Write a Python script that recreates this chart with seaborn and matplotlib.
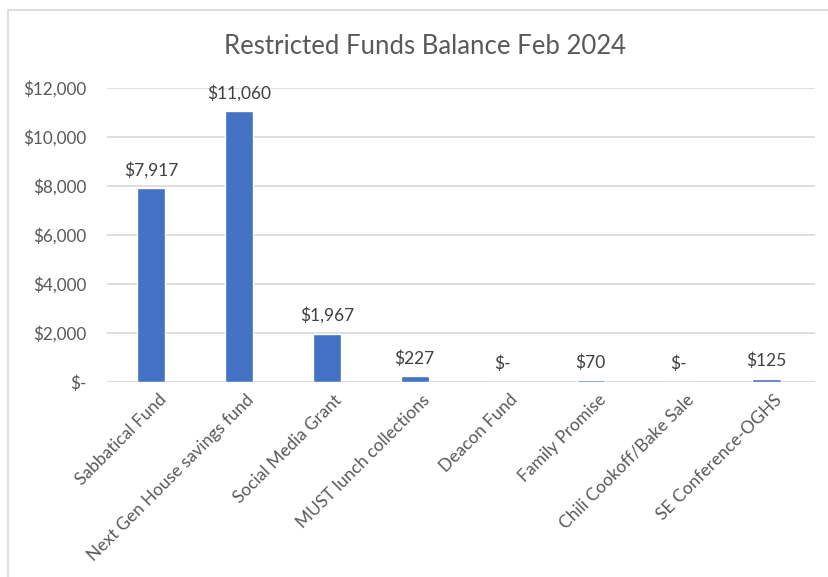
import matplotlib
matplotlib.use("Agg")
import matplotlib.pyplot as plt
from matplotlib.patches import Rectangle
from matplotlib.ticker import FuncFormatter
from matplotlib.transforms import ScaledTranslation
import seaborn as sns
import pandas as pd

funds = ["Sabbatical Fund", "Next Gen House savings fund", "Social Media Grant",
         "MUST lunch collections", "Deacon Fund", "Family Promise",
         "Chili Cookoff/Bake Sale", "SE Conference-OGHS"]
balances = [7917, 11060, 1967, 227, 0, 70, 0, 125]
y_ticks = [0, 2000, 4000, 6000, 8000, 10000, 12000]


def money(v, pos=None):
    if v == 0:
        return "$-"
    return f"${v:,.0f}"


sns.set_style("white")
plt.rcParams["font.family"] = ["Lato", "DejaVu Sans"]

grey = "#595959"
df = pd.DataFrame({"fund": funds, "balance": balances})

fig = plt.figure(figsize=(8.29, 5.77), dpi=100)
ax = fig.add_axes([0.129, 0.338, 0.854, 0.5095])

sns.barplot(data=df, x="fund", y="balance", color="#4472C4", width=0.32,
            saturation=1, ax=ax)

ax.set_ylim(0, 12000)
ax.set_yticks(y_ticks)
ax.yaxis.set_major_formatter(FuncFormatter(money))
ax.grid(axis="y", color="#D9D9D9", lw=1.2)
ax.set_axisbelow(True)
for s in ax.spines.values():
    s.set_visible(False)
ax.axhline(0, color="#D9D9D9", lw=1.5, zorder=0.5)
ax.set_xlim(-0.5, len(funds) - 0.45)
ax.set_xlabel("")
ax.set_ylabel("")
ax.tick_params(axis="x", length=0, colors=grey, labelsize=12.5, pad=7)
ax.tick_params(axis="y", length=0, colors=grey, labelsize=12.3, pad=15)
shift = ScaledTranslation(0.07, 0, fig.dpi_scale_trans)
for lab in ax.get_xticklabels():
    lab.set_rotation(45)
    lab.set_ha("right")
    lab.set_rotation_mode("anchor")
    lab.set_transform(lab.get_transform() + shift)

for i, v in enumerate(balances):
    ax.annotate(money(v), (i, v), xytext=(0, 7), textcoords="offset points",
                ha="center", va="bottom", fontsize=12.5, color="#404040")

fig.text(0.513, 0.92, "Restricted Funds Balance Feb 2024", ha="center",
         va="center", fontsize=18.5, color=grey)

fig.add_artist(Rectangle((8 / 829, -0.05), 1.1, 1 - 10 / 577 + 0.05,
                         transform=fig.transFigure, fill=False,
                         edgecolor="#D9D9D9", lw=1.2))

fig.savefig("out.png", dpi=100)
